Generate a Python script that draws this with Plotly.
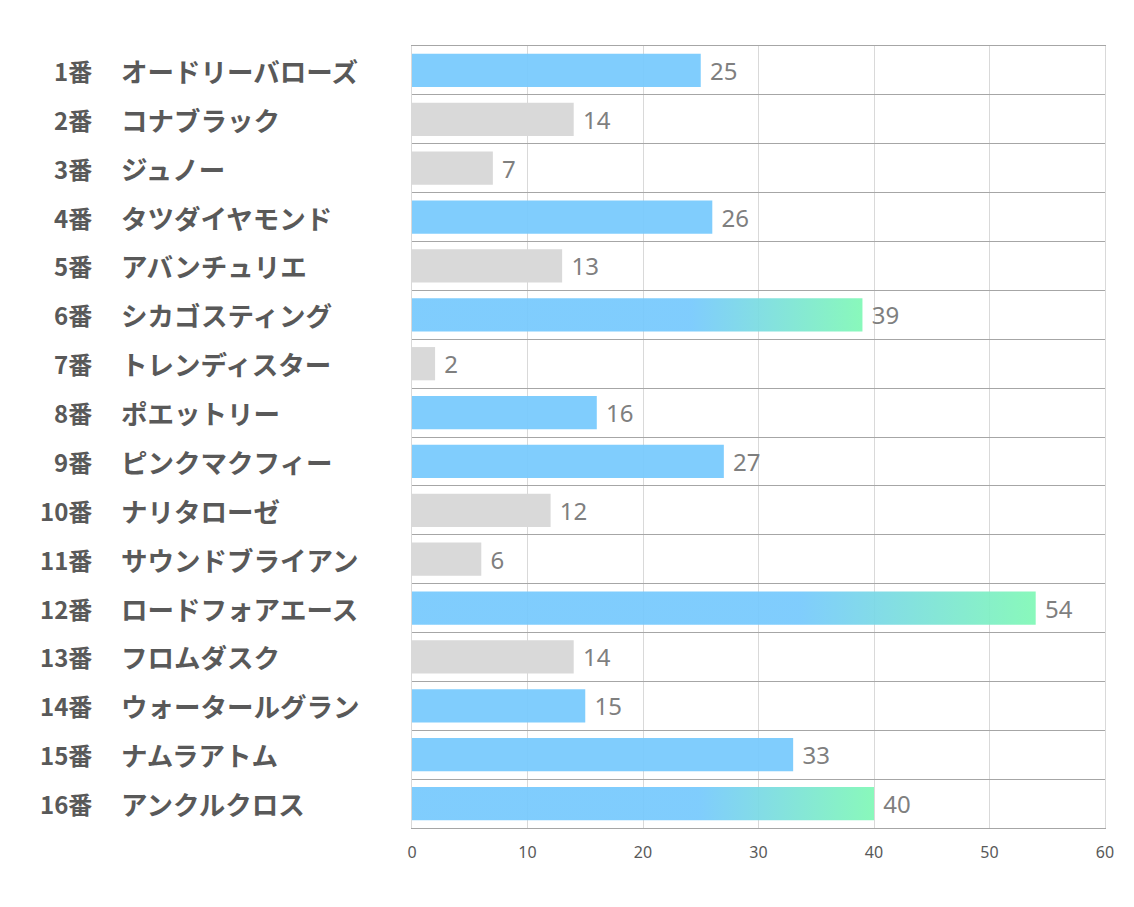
import plotly.graph_objects as go

numbers = ["1番", "2番", "3番", "4番", "5番", "6番", "7番", "8番",
           "9番", "10番", "11番", "12番", "13番", "14番", "15番", "16番"]
names = ["オードリーバローズ", "コナブラック", "ジュノー", "タツダイヤモンド",
         "アバンチュリエ", "シカゴスティング", "トレンディスター", "ポエットリー",
         "ピンクマクフィー", "ナリタローゼ", "サウンドブライアン", "ロードフォアエース",
         "フロムダスク", "ウォータールグラン", "ナムラアトム", "アンクルクロス"]
values = [25, 14, 7, 26, 13, 39, 2, 16, 27, 12, 6, 54, 14, 15, 33, 40]
kinds = ["blue", "gray", "gray", "blue", "gray", "grad", "gray", "blue",
         "blue", "gray", "gray", "grad", "gray", "blue", "blue", "grad"]
x_ticks = [0, 10, 20, 30, 40, 50, 60]

BLUE = "rgba(118,201,253,0.93)"
GREEN = "rgba(128,248,182,0.93)"
GRAY = "rgba(217,217,217,1)"
BAR_W = 0.68

idx = list(range(len(values)))
colors = [BLUE if k == "blue" else GRAY if k == "gray" else "rgba(0,0,0,0)" for k in kinds]

fig = go.Figure()
fig.add_trace(go.Bar(
    x=values, y=idx, orientation="h", width=BAR_W,
    marker=dict(color=colors, line=dict(width=0)),
    text=["\u00a0" + str(v) for v in values], textposition="outside",
    textfont=dict(family="Noto Sans, Open Sans, sans-serif", size=24, color="#7f7f7f"),
    cliponaxis=False, hoverinfo="skip", showlegend=False,
))

for i, (v, k) in enumerate(zip(values, kinds)):
    if k != "grad":
        continue
    y0, y1 = i - BAR_W / 2, i + BAR_W / 2
    fig.add_trace(go.Scatter(
        x=[0, v, v, 0, 0], y=[y0, y0, y1, y1, y0],
        mode="lines", line=dict(width=0), fill="toself",
        fillgradient=dict(type="horizontal",
                          colorscale=[[0, BLUE], [0.62, BLUE], [1, GREEN]]),
        hoverinfo="skip", showlegend=False,
    ))

PLOT_L, PLOT_R = 412, 1105
pw = PLOT_R - PLOT_L
annotations = []
for i, (n, name) in enumerate(zip(numbers, names)):
    annotations.append(dict(
        x=(94 - PLOT_L) / pw, y=i, xref="paper", yref="y", xanchor="right",
        yanchor="middle", text=f"<b>{n}</b>", showarrow=False,
        font=dict(family="Noto Sans CJK JP", size=24, color="#595959")))
    annotations.append(dict(
        x=(119 - PLOT_L) / pw, y=i, xref="paper", yref="y", xanchor="left",
        yanchor="middle", text=f"<b>{name}</b>", showarrow=False,
        font=dict(family="Noto Sans CJK JP", size=26.5, color="#595959")))

fig.update_layout(
    width=1134, height=907,
    margin=dict(l=PLOT_L, r=1134 - PLOT_R, t=46, b=79),
    paper_bgcolor="white", plot_bgcolor="white",
    annotations=annotations,
    xaxis=dict(range=[0, 60], tickvals=x_ticks, showgrid=True, gridcolor="#d9d9d9",
               gridwidth=1, zeroline=False, showline=True, mirror=True,
               linecolor="#a6a6a6", linewidth=1, ticks="", ticklabelstandoff=10,
               tickfont=dict(family="Noto Sans, Open Sans, sans-serif", size=16, color="#595959"),
               fixedrange=True),
    yaxis=dict(range=[len(values) - 0.5, -0.5], tickvals=[i - 0.5 for i in range(len(values) + 1)],
               showticklabels=False, showgrid=True, gridcolor="#a6a6a6", gridwidth=1,
               zeroline=False, showline=True, mirror=True, linecolor="#d9d9d9",
               ticks="", fixedrange=True),
    bargap=0.32,
)

fig.write_html("out.html")
